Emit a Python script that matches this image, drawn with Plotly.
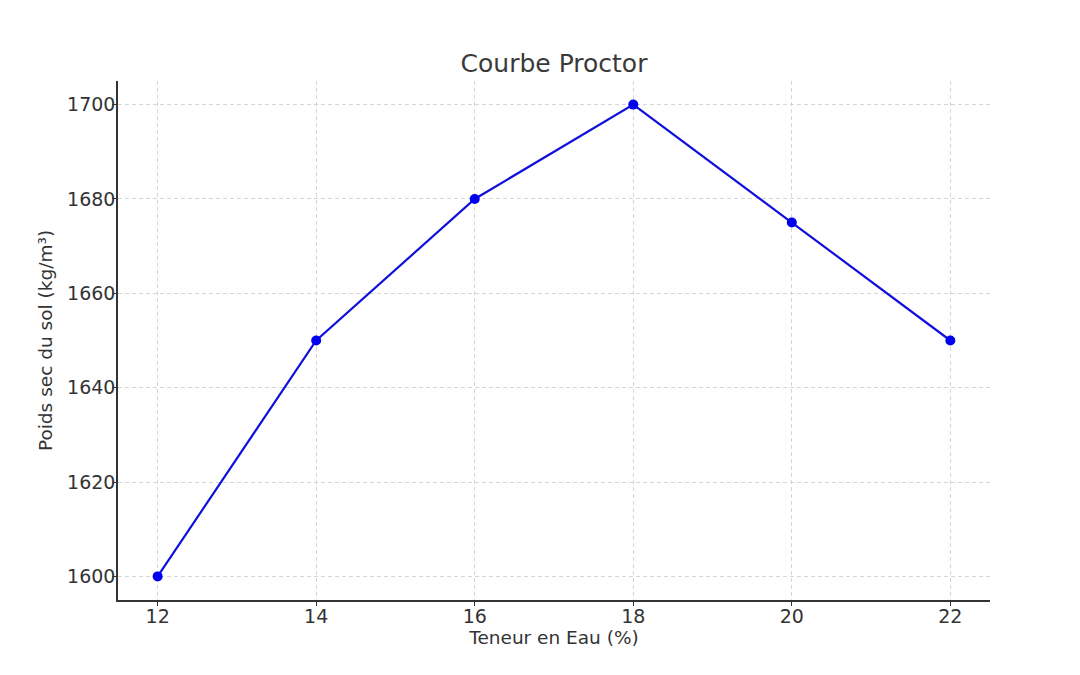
import plotly.graph_objects as go

teneur_eau = [12, 14, 16, 18, 20, 22]
poids_sec = [1600, 1650, 1680, 1700, 1675, 1650]
x_ticks = [12, 14, 16, 18, 20, 22]
y_ticks = [1600, 1620, 1640, 1660, 1680, 1700]

fig = go.Figure()
fig.add_trace(go.Scatter(
    x=teneur_eau, y=poids_sec, mode="lines+markers",
    line=dict(color="#1010dd", width=2.2),
    marker=dict(color="#0000ee", size=10),
    showlegend=False,
))

font_family = "DejaVu Sans"
fig.update_layout(
    width=1080, height=675,
    margin=dict(l=110, r=98, t=73, b=83),
    paper_bgcolor="white", plot_bgcolor="white",
    font=dict(family=font_family, color="#333333", size=19),
    title=dict(text="Courbe Proctor", x=(110 + 982) / 2 / 1080, xanchor="center",
               y=1 - 55 / 675, yanchor="middle",
               font=dict(size=25, color="#3a3a3a")),
)
grid = dict(showgrid=True, gridcolor="#d6d6d6", griddash="4px,3px", gridwidth=1)
fig.update_xaxes(
    range=[11.5, 22.5], tickvals=x_ticks, ticktext=[str(v) for v in x_ticks],
    showline=True, linecolor="#333333", linewidth=1.5, mirror=False,
    ticks="outside", ticklen=4, tickcolor="#333333", tickwidth=1.2,
    ticklabelstandoff=-6,
    zeroline=False,
    title=dict(text="Teneur en Eau (%)", standoff=6, font=dict(size=18.5)),
    tickfont=dict(size=19),
    **grid,
)
fig.update_yaxes(
    range=[1595, 1705], tickvals=y_ticks, ticktext=[str(v) for v in y_ticks],
    showline=True, linecolor="#333333", linewidth=1.5, mirror=False,
    ticks="outside", ticklen=4, tickcolor="#333333", tickwidth=1.2,
    ticklabelstandoff=-7,
    zeroline=False,
    title=dict(text="Poids sec du sol (kg/m³)", standoff=10, font=dict(size=18.5)),
    tickfont=dict(size=19),
    **grid,
)

fig.write_html("out.html")
